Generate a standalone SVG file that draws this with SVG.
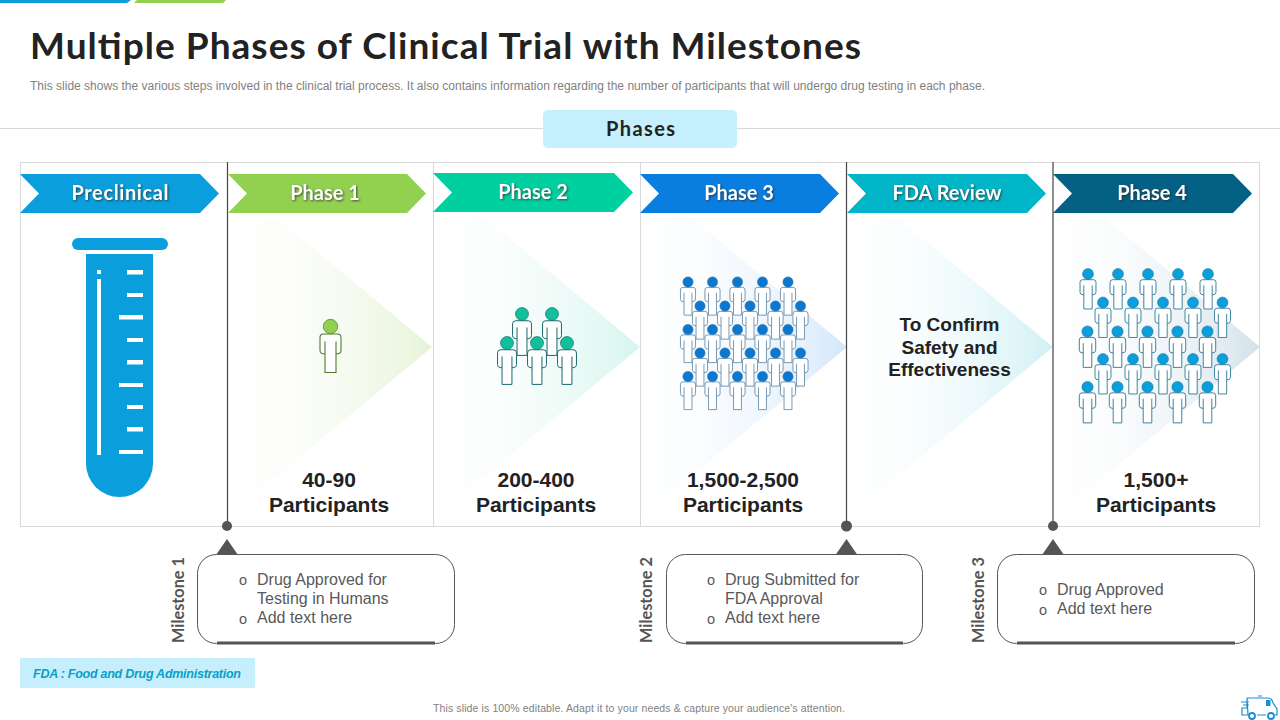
<svg xmlns="http://www.w3.org/2000/svg" xmlns:xlink="http://www.w3.org/1999/xlink" width="1280" height="720" viewBox="0 0 1280 720">
<style>
text{font-family:"Liberation Sans",Arial,sans-serif}
.head{font-family:Lato,"Liberation Sans",sans-serif;font-weight:700}
.arrowtxt{font-family:Lato,"Liberation Sans",sans-serif;font-weight:700;font-size:20px;fill:#fff;text-anchor:middle;filter:drop-shadow(1px 1px 1px rgba(40,40,40,.75))}
.count{font-weight:700;font-size:21px;fill:#222;text-anchor:middle}
.confirm{font-weight:700;font-size:19px;fill:#222;text-anchor:middle}
.bul{font-size:16px;fill:#595959}
.o{font-size:14.500px;fill:#595959}
.ms{font-family:Lato,"Liberation Sans",sans-serif;font-weight:700;font-size:16.300px;fill:#555;text-anchor:middle}
.box{fill:#fff;stroke:#555;stroke-width:1}
.thick{stroke:#555;stroke-width:3;fill:none}
.dark{fill:#555}
.div{stroke:#d9d9d9;stroke-width:1;fill:none}
.conn{stroke:#444;stroke-width:1.2;fill:none}
.tick{fill:#fff}
.p1{color:#92d050;stroke:#4f7a28}
.p2{color:#0fc09a;stroke:#13666b}
.p3{color:#0a78d0;stroke:#56809f}
.p4{color:#0a9fdc;stroke:#1f6f8f}
</style>
<defs>
<symbol id="person" viewBox="-12 -8 24 56" width="24" height="56" overflow="visible">
<path d="M-7,7.500H7Q10.500,7.500 10.500,11V24Q10.500,27.500 5.500,27.500V46H-5.500V27.500Q-10.500,27.500 -10.500,24V11Q-10.500,7.500 -7,7.500ZM5.500,15V27.500M-5.500,15V27.500" fill="#fff" stroke-width="1.100"/>
<circle cx="0" cy="0" r="7.200" fill="currentColor" stroke-width=".7"/>
</symbol>
<linearGradient id="g1"><stop offset="0" stop-color="#e4f2d4" stop-opacity="0"/><stop offset=".3" stop-color="#e4f2d4" stop-opacity=".1"/><stop offset=".6" stop-color="#e4f2d4" stop-opacity=".35"/><stop offset=".85" stop-color="#e4f2d4" stop-opacity=".65"/><stop offset="1" stop-color="#e4f2d4" stop-opacity=".95"/></linearGradient>
<linearGradient id="g2"><stop offset="0" stop-color="#d2f4ec" stop-opacity="0"/><stop offset=".3" stop-color="#d2f4ec" stop-opacity=".1"/><stop offset=".6" stop-color="#d2f4ec" stop-opacity=".35"/><stop offset=".85" stop-color="#d2f4ec" stop-opacity=".65"/><stop offset="1" stop-color="#d2f4ec" stop-opacity=".95"/></linearGradient>
<linearGradient id="g3"><stop offset="0" stop-color="#d0e5fa" stop-opacity="0"/><stop offset=".3" stop-color="#d0e5fa" stop-opacity=".1"/><stop offset=".6" stop-color="#d0e5fa" stop-opacity=".35"/><stop offset=".85" stop-color="#d0e5fa" stop-opacity=".65"/><stop offset="1" stop-color="#d0e5fa" stop-opacity=".95"/></linearGradient>
<linearGradient id="g4"><stop offset="0" stop-color="#cdeff3" stop-opacity="0"/><stop offset=".3" stop-color="#cdeff3" stop-opacity=".1"/><stop offset=".6" stop-color="#cdeff3" stop-opacity=".35"/><stop offset=".85" stop-color="#cdeff3" stop-opacity=".65"/><stop offset="1" stop-color="#cdeff3" stop-opacity=".95"/></linearGradient>
<linearGradient id="g5"><stop offset="0" stop-color="#d0dfe8" stop-opacity="0"/><stop offset=".3" stop-color="#d0dfe8" stop-opacity=".1"/><stop offset=".6" stop-color="#d0dfe8" stop-opacity=".35"/><stop offset=".85" stop-color="#d0dfe8" stop-opacity=".65"/><stop offset="1" stop-color="#d0dfe8" stop-opacity=".95"/></linearGradient>
</defs>
<rect width="1280" height="720" fill="#fff"/>
<polygon points="0,0 131,0 127,3 0,3" fill="#0a9fdc"/>
<polygon points="134,3 137,0 226,0 223,3" fill="#92d050"/>
<text class="head" x="30" y="59" font-size="37" fill="#222" textLength="831" lengthAdjust="spacing">Multiple Phases of Clinical Trial with Milestones</text>
<text x="30" y="90" font-size="12" fill="#7f7f7f" textLength="955" lengthAdjust="spacing">This slide shows the various steps involved in the clinical trial process. It also contains information regarding the number of participants that will undergo drug testing in each phase.</text>
<line x1="0" y1="128.500" x2="1280" y2="128.500" class="div"/>
<g id="phases-title">
<rect x="543" y="110" width="194" height="38" rx="5" fill="#c5effc"/>
<text class="head" x="606" y="136" font-size="20" fill="#222" textLength="69" lengthAdjust="spacing">Phases</text>
</g>
<rect x="20.500" y="162.500" width="1239" height="364" class="div"/>
<line x1="433.500" y1="162" x2="433.500" y2="526" class="div"/>
<line x1="640.500" y1="162" x2="640.500" y2="526" class="div"/>

<polygon points="227,218 277,218 432,347 242,505 227,505" fill="url(#g1)"/>
<polygon points="435,218 485,218 640,347 450,505 435,505" fill="url(#g2)"/>
<polygon points="642,218 692,218 847,347 657,505 642,505" fill="url(#g3)"/>
<polygon points="848,218 898,218 1053,347 863,505 848,505" fill="url(#g4)"/>
<polygon points="1055,218 1105,218 1260,347 1070,505 1055,505" fill="url(#g5)"/>

<g id="connectors">
<line x1="227.500" y1="162" x2="227.500" y2="526" class="conn"/>
<line x1="846.500" y1="162" x2="846.500" y2="526" class="conn"/>
<line x1="1053" y1="162" x2="1053" y2="526" class="conn"/>
</g>

<g id="preclinical">
<polygon points="20,174 200,174 219,193.500 200,213 20,213 39,193.500" fill="#0a9fdc"/>
<text class="arrowtxt" x="71.500" y="200" style="text-anchor:start" textLength="97" lengthAdjust="spacing">Preclinical</text>
<rect x="72" y="238" width="96" height="12" rx="6" fill="#0a9fdc"/>
<path d="M86,254H153V463.500A33.500,33.500 0 0 1 86,463.500Z" fill="#0a9fdc"/>
<rect class="tick" x="97" y="270" width="4" height="4"/>
<rect class="tick" x="97" y="279" width="4" height="176"/>
<rect class="tick" x="127" y="270" width="16" height="4.500"/>
<rect class="tick" x="127" y="293" width="16" height="4"/>
<rect class="tick" x="119" y="315" width="24" height="4.500"/>
<rect class="tick" x="127" y="338" width="16" height="4"/>
<rect class="tick" x="127" y="360" width="16" height="4.500"/>
<rect class="tick" x="119" y="383" width="24" height="4"/>
<rect class="tick" x="127" y="405" width="16" height="4"/>
<rect class="tick" x="127" y="427" width="16" height="4.500"/>
<rect class="tick" x="119" y="450" width="24" height="4"/>
</g>

<g id="phase-1">
<polygon points="228,174 407,174 426,193.500 407,213 228,213 247,193.500" fill="#92d050"/>
<text class="arrowtxt" x="325" y="200">Phase 1</text>
<use href="#person" class="p1" transform="translate(330.500,326.500)" x="-12" y="-8"/>
<text class="count" x="329" y="487">40-90</text>
<text class="count" x="329" y="512">Participants</text>
</g>

<g id="phase-2">
<polygon points="433,173 614,173 633,192.500 614,212 433,212 452,192.500" fill="#00d0a0"/>
<text class="arrowtxt" x="533" y="199">Phase 2</text>
<g class="p2">
<use href="#person" transform="translate(522,314) scale(.9)" x="-12" y="-8"/>
<use href="#person" transform="translate(552,314) scale(.9)" x="-12" y="-8"/>
<use href="#person" transform="translate(507,343) scale(.9)" x="-12" y="-8"/>
<use href="#person" transform="translate(537,343) scale(.9)" x="-12" y="-8"/>
<use href="#person" transform="translate(567,343) scale(.9)" x="-12" y="-8"/>
</g>
<text class="count" x="536" y="487">200-400</text>
<text class="count" x="536" y="512">Participants</text>
</g>

<g id="phase-3">
<polygon points="640,174 820,174 839,193.500 820,213 640,213 659,193.500" fill="#0a7ee0"/>
<text class="arrowtxt" x="739" y="200">Phase 3</text>
<g class="p3">
<use href="#person" transform="translate(688,282) scale(.72)" x="-12" y="-8"/><use href="#person" transform="translate(712.500,282) scale(.72)" x="-12" y="-8"/><use href="#person" transform="translate(737.500,282) scale(.72)" x="-12" y="-8"/><use href="#person" transform="translate(762.500,282) scale(.72)" x="-12" y="-8"/><use href="#person" transform="translate(788,282) scale(.72)" x="-12" y="-8"/>
<use href="#person" transform="translate(700,306) scale(.72)" x="-12" y="-8"/><use href="#person" transform="translate(725,306) scale(.72)" x="-12" y="-8"/><use href="#person" transform="translate(750,306) scale(.72)" x="-12" y="-8"/><use href="#person" transform="translate(775.500,306) scale(.72)" x="-12" y="-8"/><use href="#person" transform="translate(800.500,306) scale(.72)" x="-12" y="-8"/>
<use href="#person" transform="translate(688,329.500) scale(.72)" x="-12" y="-8"/><use href="#person" transform="translate(712.500,329.500) scale(.72)" x="-12" y="-8"/><use href="#person" transform="translate(737.500,329.500) scale(.72)" x="-12" y="-8"/><use href="#person" transform="translate(762.500,329.500) scale(.72)" x="-12" y="-8"/><use href="#person" transform="translate(788,329.500) scale(.72)" x="-12" y="-8"/>
<use href="#person" transform="translate(700,353) scale(.72)" x="-12" y="-8"/><use href="#person" transform="translate(725,353) scale(.72)" x="-12" y="-8"/><use href="#person" transform="translate(750,353) scale(.72)" x="-12" y="-8"/><use href="#person" transform="translate(775.500,353) scale(.72)" x="-12" y="-8"/><use href="#person" transform="translate(800.500,353) scale(.72)" x="-12" y="-8"/>
<use href="#person" transform="translate(688,376.500) scale(.72)" x="-12" y="-8"/><use href="#person" transform="translate(712.500,376.500) scale(.72)" x="-12" y="-8"/><use href="#person" transform="translate(737.500,376.500) scale(.72)" x="-12" y="-8"/><use href="#person" transform="translate(762.500,376.500) scale(.72)" x="-12" y="-8"/><use href="#person" transform="translate(788,376.500) scale(.72)" x="-12" y="-8"/>
</g>
<text class="count" x="743" y="487">1,500-2,500</text>
<text class="count" x="743" y="512">Participants</text>
</g>

<g id="fda-review">
<polygon points="847,174 1027,174 1046,193.500 1027,213 847,213 866,193.500" fill="#00b5c8"/>
<text class="arrowtxt" x="947" y="200">FDA Review</text>
<text class="confirm" x="949.500" y="331">To Confirm</text>
<text class="confirm" x="949.500" y="354">Safety and</text>
<text class="confirm" x="949.500" y="376">Effectiveness</text>
</g>

<g id="phase-4">
<polygon points="1053,174 1233,174 1252,193.500 1233,213 1053,213 1072,193.500" fill="#046085"/>
<text class="arrowtxt" x="1152" y="200">Phase 4</text>
<g class="p4">
<use href="#person" transform="translate(1088,274) scale(.76)" x="-12" y="-8"/><use href="#person" transform="translate(1118,274) scale(.76)" x="-12" y="-8"/><use href="#person" transform="translate(1148,274) scale(.76)" x="-12" y="-8"/><use href="#person" transform="translate(1178,274) scale(.76)" x="-12" y="-8"/><use href="#person" transform="translate(1208,274) scale(.76)" x="-12" y="-8"/>
<use href="#person" transform="translate(1103,302.500) scale(.76)" x="-12" y="-8"/><use href="#person" transform="translate(1133,302.500) scale(.76)" x="-12" y="-8"/><use href="#person" transform="translate(1163,302.500) scale(.76)" x="-12" y="-8"/><use href="#person" transform="translate(1193,302.500) scale(.76)" x="-12" y="-8"/><use href="#person" transform="translate(1222.500,302.500) scale(.76)" x="-12" y="-8"/>
<use href="#person" transform="translate(1087.500,331.500) scale(.78)" x="-12" y="-8"/><use href="#person" transform="translate(1117.500,331.500) scale(.78)" x="-12" y="-8"/><use href="#person" transform="translate(1147.500,331.500) scale(.78)" x="-12" y="-8"/><use href="#person" transform="translate(1177.500,331.500) scale(.78)" x="-12" y="-8"/><use href="#person" transform="translate(1207.500,331.500) scale(.78)" x="-12" y="-8"/>
<use href="#person" transform="translate(1103,359) scale(.76)" x="-12" y="-8"/><use href="#person" transform="translate(1133,359) scale(.76)" x="-12" y="-8"/><use href="#person" transform="translate(1163,359) scale(.76)" x="-12" y="-8"/><use href="#person" transform="translate(1193,359) scale(.76)" x="-12" y="-8"/><use href="#person" transform="translate(1222.500,359) scale(.76)" x="-12" y="-8"/>
<use href="#person" transform="translate(1087.500,387) scale(.78)" x="-12" y="-8"/><use href="#person" transform="translate(1117.500,387) scale(.78)" x="-12" y="-8"/><use href="#person" transform="translate(1147.500,387) scale(.78)" x="-12" y="-8"/><use href="#person" transform="translate(1177.500,387) scale(.78)" x="-12" y="-8"/><use href="#person" transform="translate(1207.500,387) scale(.78)" x="-12" y="-8"/>
</g>
<text class="count" x="1156" y="487">1,500+</text>
<text class="count" x="1156" y="512">Participants</text>
</g>

<g id="milestone-1">
<circle class="dark" cx="227" cy="526" r="5"/>
<polygon class="dark" points="227,539 238,555 216,555"/>
<rect class="box" x="197.500" y="554.500" width="257" height="89" rx="19"/>
<line class="thick" x1="217" y1="643" x2="435" y2="643"/>
<text class="ms" transform="translate(184,600) rotate(-90)">Milestone 1</text>
<text class="o" x="239" y="585">o</text><text class="bul" x="257" y="585">Drug Approved for</text>
<text class="bul" x="257" y="604">Testing in Humans</text>
<text class="o" x="239" y="624">o</text><text class="bul" x="257" y="623">Add text here</text>
</g>

<g id="milestone-2">
<circle class="dark" cx="846.500" cy="526" r="5.500"/>
<polygon class="dark" points="846.500,539 857.500,555 835.500,555"/>
<rect class="box" x="666.500" y="554.500" width="256" height="89" rx="19"/>
<line class="thick" x1="686" y1="643" x2="903" y2="643"/>
<text class="ms" transform="translate(652,600) rotate(-90)">Milestone 2</text>
<text class="o" x="707" y="585">o</text><text class="bul" x="725" y="585">Drug Submitted for</text>
<text class="bul" x="725" y="604">FDA Approval</text>
<text class="o" x="707" y="624">o</text><text class="bul" x="725" y="623">Add text here</text>
</g>

<g id="milestone-3">
<circle class="dark" cx="1053" cy="526" r="5"/>
<polygon class="dark" points="1053,539 1064,555 1042,555"/>
<rect class="box" x="997.500" y="554.500" width="257" height="89" rx="19"/>
<line class="thick" x1="1017" y1="643" x2="1235" y2="643"/>
<text class="ms" transform="translate(984,600) rotate(-90)">Milestone 3</text>
<text class="o" x="1039" y="595">o</text><text class="bul" x="1057" y="595">Drug Approved</text>
<text class="o" x="1039" y="615">o</text><text class="bul" x="1057" y="614">Add text here</text>
</g>

<g id="fda-note">
<rect x="20" y="658" width="235" height="30" fill="#c5effc"/>
<text x="33" y="678" font-size="12.500" font-weight="700" font-style="italic" fill="#0a9fc8" textLength="208" lengthAdjust="spacing">FDA : Food and Drug Administration</text>
</g>
<text x="433" y="712" font-size="10.500" fill="#7f7f7f" textLength="412" lengthAdjust="spacing">This slide is 100% editable.  Adapt it to your needs &amp; capture your audience's attention.</text>
<g id="ambulance" fill="none" stroke="#1a8fd0" stroke-width="1.200">
<path d="M1247,698H1268Q1272,698 1273,703L1277,709V715H1275M1266,715H1257M1248,715H1242V708H1247V698Z" fill="#fff"/>
<rect x="1266" y="700" width="4.500" height="6" fill="#1a8fd0" stroke="none"/>
<path d="M1241,702H1249M1243,705H1249M1258,696H1262" stroke-width="1"/>
<circle cx="1252" cy="716" r="3" stroke-width="1.800" fill="#fff"/>
<circle cx="1271" cy="716" r="3" stroke-width="1.800" fill="#fff"/>
</g>
</svg>
